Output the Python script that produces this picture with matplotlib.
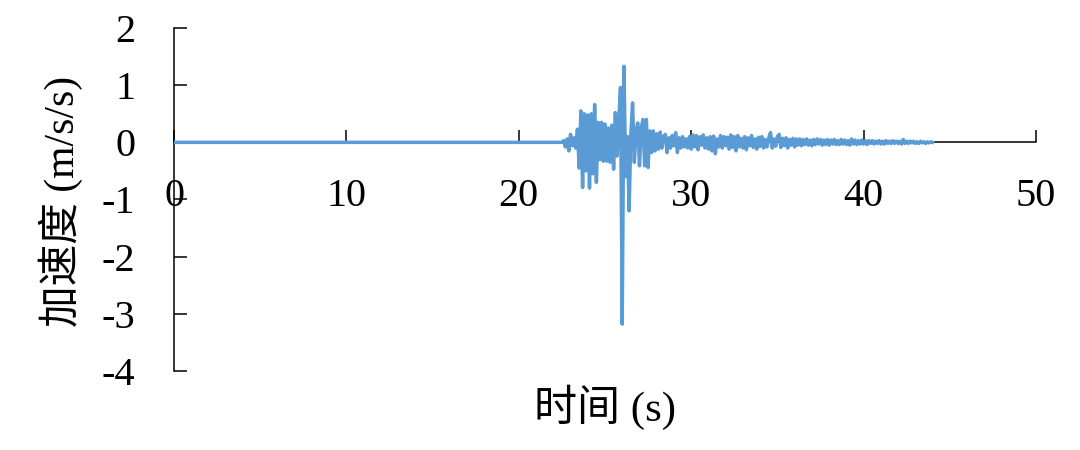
import numpy as np
import matplotlib
matplotlib.use("Agg")
import matplotlib.pyplot as plt

plt.rcParams['font.family'] = ['Liberation Serif', 'Noto Sans CJK SC', 'DejaVu Sans']

# ---- data ----
x_ticks = [0, 10, 20, 30, 40, 50]
y_ticks = [-4, -3, -2, -1, 0, 1, 2]
x_label = "时间 (s)"
y_label = "加速度 (m/s/s)"

# quiet part before the record
quiet_time = [0.0, 22.3]
quiet_acc = [0.0, 0.0]

# record sampled every 0.1 s starting at 22.4 s
rec_start = 22.4
rec_dt = 0.1
acc_strong = [  # 22.4 .. 29.9
    0.0, 0.0, 0.03, -0.08, 0.06, -0.15, 0.14, -0.06, 0.08, -0.10,
    0.23, -0.45, 0.55, -0.79, 0.50, -0.50, 0.48, -0.80, 0.50, -0.55,
    0.66, -0.70, 0.35, -0.30, 0.35, -0.33, 0.32, -0.33, 0.25, -0.35,
    0.30, -0.47, 0.52, -0.24, 0.40, 0.96, -3.18, 1.33, -0.60, 0.10,
    -1.20, 0.15, 0.69, -0.35, 0.20, 0.34, -0.41, 0.25, 0.40, -0.41,
    0.40, -0.44, 0.20, -0.18, 0.20, -0.15, 0.15, -0.12, 0.18, -0.10,
    0.10, 0.14, -0.18, 0.08, -0.10, 0.12, -0.06, 0.17, -0.18, 0.08,
    -0.10, 0.10, -0.08, 0.06, -0.10, 0.10,
]
acc_mid = [  # 30.0 .. 35.9
    -0.12, 0.13, -0.08, 0.12, -0.13, 0.10, -0.05, 0.13, -0.10, 0.08,
    -0.12, 0.10, -0.15, 0.11, -0.20, 0.06, -0.08, 0.12, -0.10, 0.10,
    -0.06, 0.09, -0.12, 0.13, -0.09, 0.10, -0.15, 0.12, -0.08, 0.07,
    -0.10, 0.10, -0.13, 0.08, -0.06, 0.12, -0.09, 0.06, -0.12, 0.09,
    -0.07, 0.10, -0.10, 0.05, -0.08, 0.08, 0.17, -0.10, 0.06, -0.07,
    0.10, 0.14, -0.09, 0.07, -0.06, 0.08, -0.10, 0.05, -0.05, 0.07,
]
acc_tail = [  # 36.0 .. 44.0
    -0.08, 0.06, -0.05, 0.06, -0.06, 0.05, -0.04, 0.06, -0.05, 0.04,
    -0.06, 0.05, -0.04, 0.06, -0.03, 0.05, -0.05, 0.04, -0.04, 0.05,
    -0.05, 0.04, -0.03, 0.05, -0.04, 0.03, -0.04, 0.05, -0.03, 0.04,
    -0.04, 0.03, -0.05, 0.06, -0.03, 0.04, -0.04, 0.03, -0.03, 0.04,
    -0.03, 0.03, -0.04, 0.03, -0.02, 0.03, -0.03, 0.02, -0.02, 0.03,
    -0.03, 0.02, -0.03, 0.03, -0.02, 0.02, -0.02, 0.03, -0.02, 0.02,
    -0.02, 0.02, -0.03, 0.05, -0.02, 0.02, -0.02, 0.02, -0.01, 0.02,
    -0.02, 0.01, -0.02, 0.02, -0.01, 0.01, -0.02, 0.01, -0.01, 0.01,
    0.0,
]

rec_acc = np.array(acc_strong + acc_mid + acc_tail)
rec_time = rec_start + rec_dt * np.arange(len(rec_acc))
time = np.concatenate([quiet_time, rec_time])
acc = np.concatenate([quiet_acc, rec_acc])

# ---- figure ----
W, H = 1080, 450
fig = plt.figure(figsize=(W / 100, H / 100), dpi=100)
ax = fig.add_axes([174 / W, 1 - 371 / H, (1036 - 174) / W, (371 - 28) / H])

ax.plot(time, acc, color='#5B9BD5', lw=2.5, solid_joinstyle='round', zorder=3)

ax.set_xlim(0, 50)
ax.set_ylim(-4, 2)
ax.set_xticks(x_ticks)
ax.set_yticks(y_ticks)
ax.set_xticklabels([str(v) for v in x_ticks])
ax.set_yticklabels([str(v) for v in y_ticks])

for s in ['top', 'right']:
    ax.spines[s].set_visible(False)
ax.spines['bottom'].set_position(('data', 0))
for s in ['left', 'bottom']:
    ax.spines[s].set_linewidth(1.1)
    ax.spines[s].set_color('black')

ax.tick_params(axis='x', direction='in', length=9, width=1.1, pad=26,
               labelsize=29, colors='black')
ax.tick_params(axis='y', direction='in', length=9, width=1.1, pad=28,
               labelsize=29, colors='black')

fig.text(605 / W, 1 - 407 / H, x_label, ha='center', va='center', fontsize=31)
fig.text(61 / W, 1 - 201 / H, y_label, ha='center', va='center', rotation=90,
         fontsize=30)

fig.savefig('out.png', dpi=100, facecolor='white')
